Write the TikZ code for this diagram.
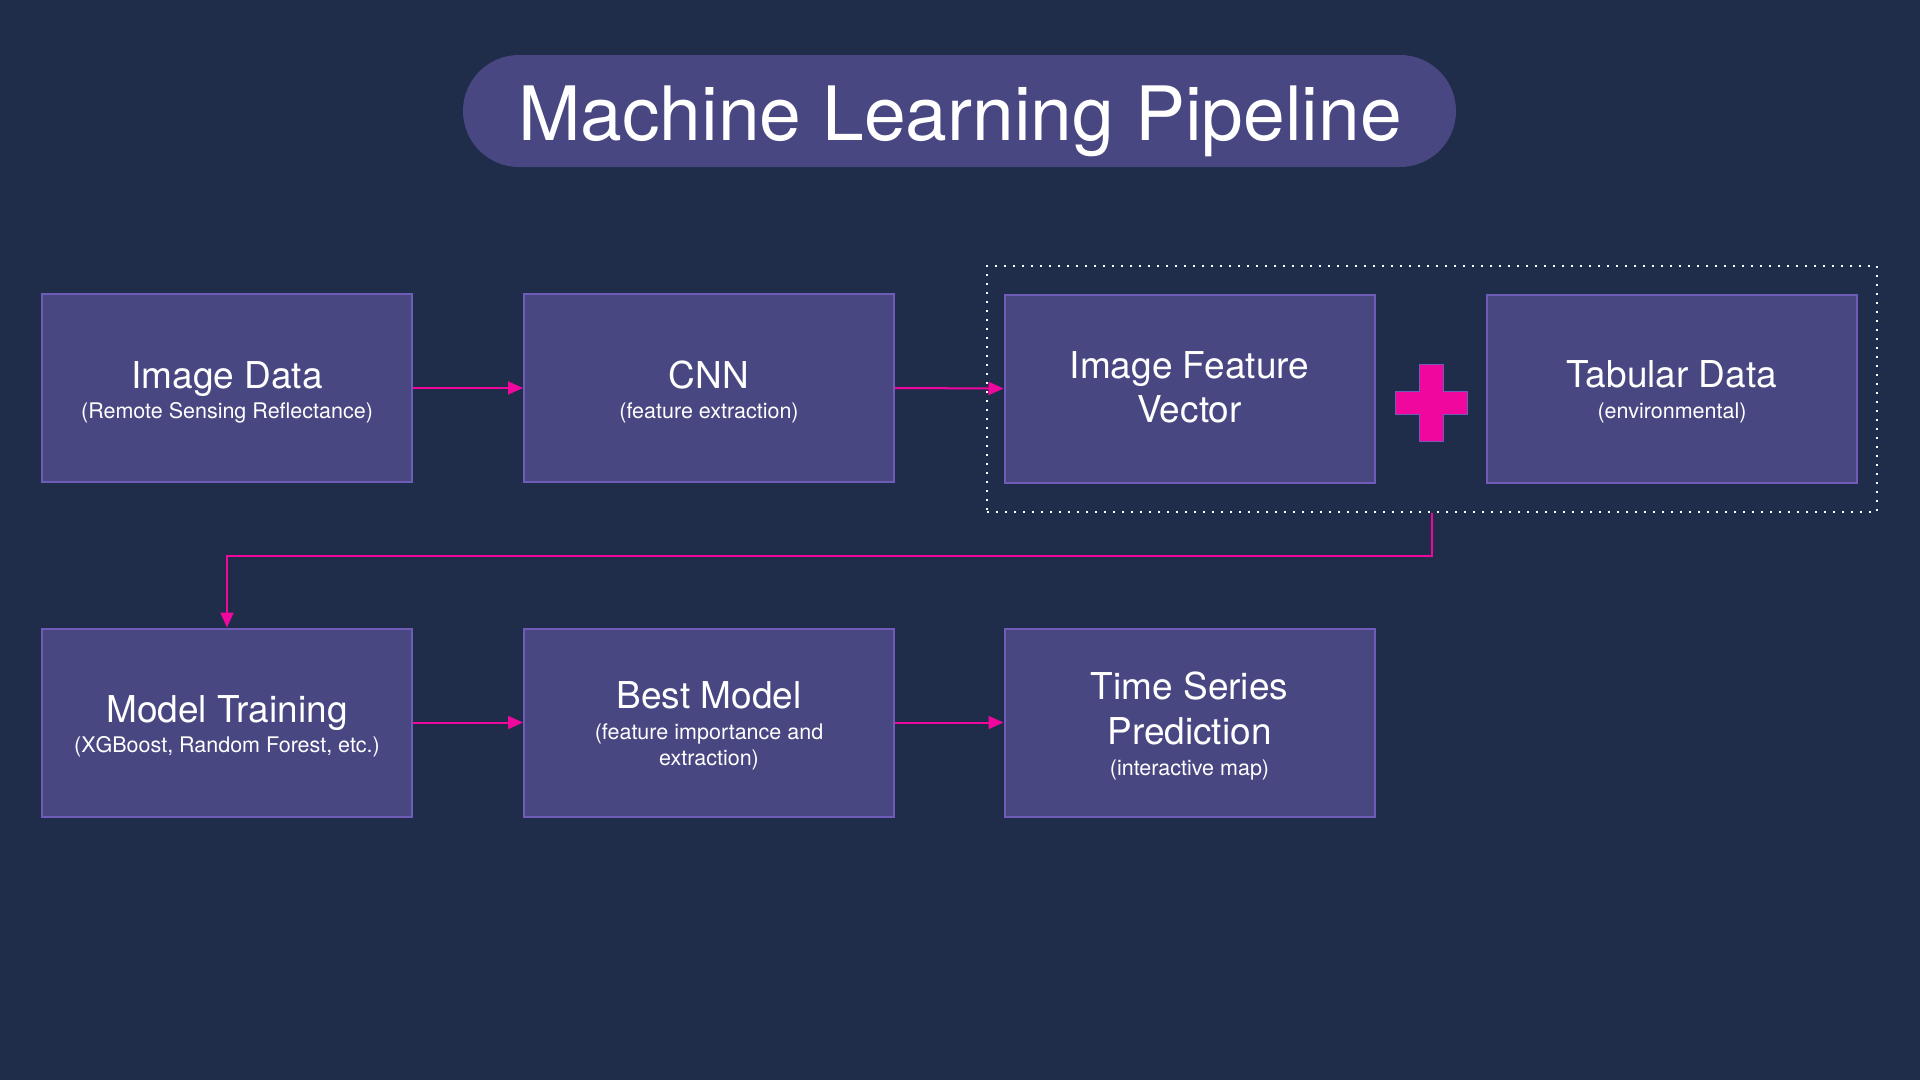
\documentclass[tikz,border=0pt]{standalone}
\usepackage{fontspec}
\setmainfont{TeX Gyre Heros}
\usetikzlibrary{arrows.meta}
\definecolor{bgc}{RGB}{31,45,75}
\definecolor{boxfill}{RGB}{73,71,130}
\definecolor{boxline}{RGB}{110,92,184}
\definecolor{magc}{RGB}{240,8,158}
\tikzset{
  stagebox/.style={draw=boxline, fill=boxfill, line width=2pt, minimum width=370pt, minimum height=188pt, inner sep=0pt},
  headtxt/.style={text=white, anchor=base, inner sep=0pt, font=\fontsize{37}{44}\selectfont},
  subtxt/.style={text=white, anchor=base, inner sep=0pt, font=\fontsize{21.5}{26}\selectfont},
  arr/.style={draw=magc, line width=2pt, -{Triangle[length=15pt,width=13pt]}},
  groupframe/.style={draw=white, line width=2pt, dash pattern=on 2pt off 7pt, minimum width=890pt, minimum height=246pt, inner sep=0pt},
  pill/.style={fill=boxfill, rounded corners=56pt, minimum width=993pt, minimum height=112pt, inner sep=0pt},
}
\begin{document}
\begin{tikzpicture}[x=1pt,y=-1pt]
\useasboundingbox (0,0) rectangle (1920,1080);
\fill[bgc] (0,0) rectangle (1920,1080);

% title
\node[pill] (titlebg) at (959.5,111) {};
\node[text=white, anchor=base, inner sep=0pt, font=\fontsize{75}{80}\selectfont] (title) at (960,140) {Machine Learning Pipeline};

% group frame
\node[groupframe] (frame) at (1432,389) {};

% row 1
\node[stagebox] (img) at (227,388) {};
\node[stagebox] (cnn) at (709,388) {};
\node[stagebox] (ifv) at (1189.5,388.5) {};
\node[stagebox] (tab) at (1672,388.5) {};

\node[headtxt] (imgt) at (227,388) {Image Data};
\node[subtxt] (imgs) at (227,418) {(Remote Sensing Reflectance)};
\node[headtxt] (cnnt) at (709,388) {CNN};
\node[subtxt] (cnns) at (709,418) {(feature extraction)};
\node[headtxt] (ifv1) at (1189.5,378) {Image Feature};
\node[headtxt] (ifv2) at (1189.5,422) {Vector};
\node[headtxt] (tabt) at (1672,387) {Tabular Data};
\node[subtxt] (tabs) at (1672,418) {(environmental)};

% plus sign
\filldraw[fill=magc, draw=boxline, line width=1pt]
  (1419,364) -- (1443,364) -- (1443,391) -- (1467,391) -- (1467,414) -- (1443,414)
  -- (1443,441) -- (1419,441) -- (1419,414) -- (1395,414) -- (1395,391) -- (1419,391) -- cycle;

% row 2
\node[stagebox] (mt) at (227,722.5) {};
\node[stagebox] (bm) at (709,722.5) {};
\node[stagebox] (ts) at (1189.5,722.5) {};

\node[headtxt] (mtt) at (227,722) {Model Training};
\node[subtxt] (mts) at (227,752) {(XGBoost, Random Forest, etc.)};
\node[headtxt] (bmt) at (709,708) {Best Model};
\node[subtxt] (bms1) at (709,739) {(feature importance and};
\node[subtxt] (bms2) at (709,765) {extraction)};
\node[headtxt] (ts1) at (1189.5,699) {Time Series};
\node[headtxt] (ts2) at (1189.5,744) {Prediction};
\node[subtxt] (tss) at (1189.5,775) {(interactive map)};

% connectors
\draw[arr] (img.east) -- (cnn.west);
\draw[arr] (cnn.east) -- (ifv.west);
\draw[arr] (frame.south) -- ++(0,43) -| (mt.north);
\draw[arr] (mt.east) -- (bm.west);
\draw[arr] (bm.east) -- (ts.west);
\end{tikzpicture}
\end{document}
